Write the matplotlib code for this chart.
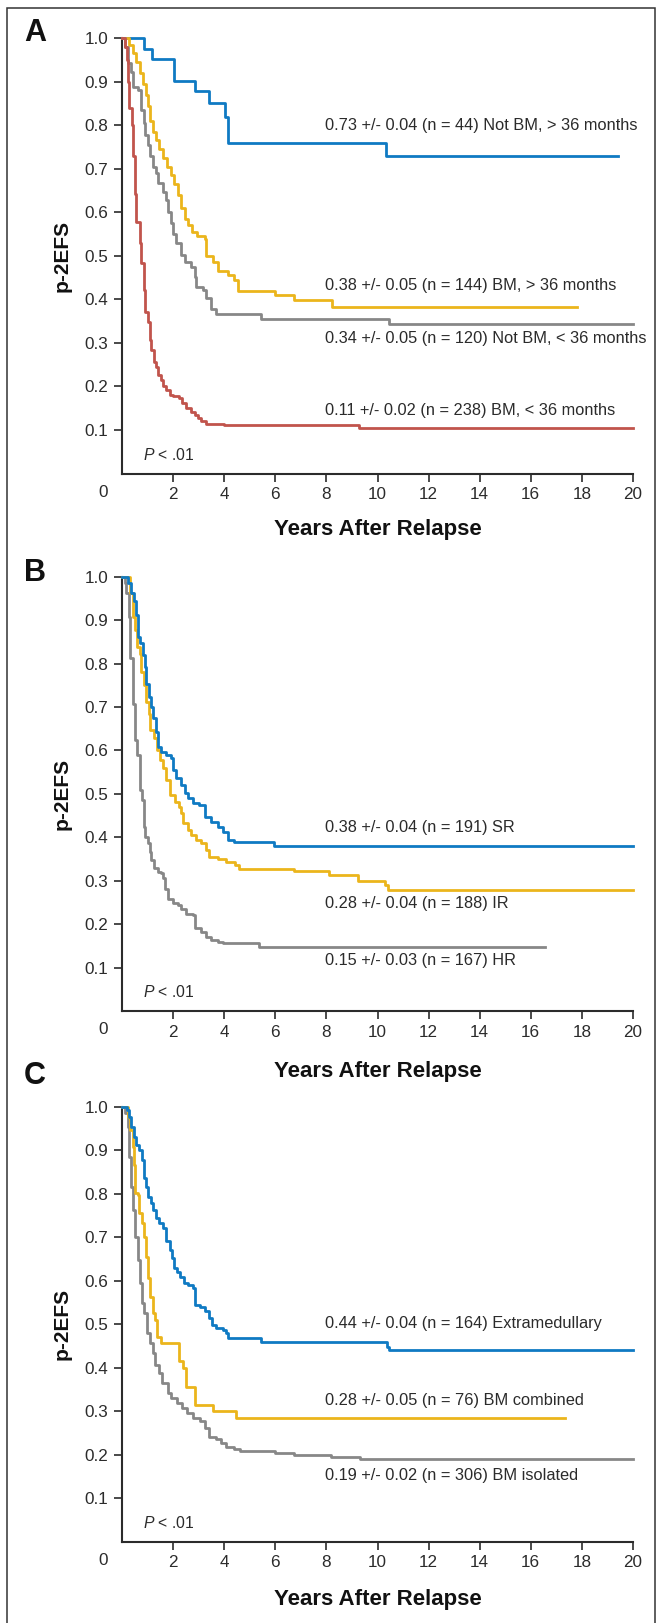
import matplotlib
matplotlib.use('Agg')
import matplotlib.pyplot as plt
from matplotlib import font_manager
from matplotlib.patches import Rectangle

installed = {f.name for f in font_manager.fontManager.ttflist}
base_font = 'Liberation Sans' if 'Liberation Sans' in installed else 'DejaVu Sans'
plt.rcParams['font.family'] = [base_font, 'DejaVu Sans']
# italic P in "P < .01" from the same family
plt.rcParams['mathtext.fontset'] = 'custom'
plt.rcParams['mathtext.it'] = base_font + ':italic'
plt.rcParams['mathtext.rm'] = base_font

BLUE = '#0f7ac3'
YELLOW = '#ebb51c'
GRAY = '#878787'
RED = '#c1544c'
INK = '#2b2b2b'

# ---- Panel A: relapse site x time to relapse ----
a_blue_t = [0.88, 1.19, 2.03, 2.86, 3.42, 4.05, 4.16, 10.34]
a_blue_s = [0.975, 0.951, 0.901, 0.878, 0.850, 0.818, 0.758, 0.728]
a_blue_end = 19.4

a_yellow_t = [0.27, 0.45, 0.55, 0.70, 0.82, 0.92, 1.00, 1.10, 1.20, 1.35, 1.45, 1.60, 1.75, 1.92,
              2.05, 2.20, 2.32, 2.45, 2.60, 2.75, 2.95, 3.25, 3.30, 3.55, 3.75, 4.15, 4.40, 4.55,
              6.00, 6.75, 8.20]
a_yellow_s = [0.985, 0.965, 0.945, 0.920, 0.895, 0.870, 0.845, 0.810, 0.785, 0.765, 0.745, 0.725,
              0.705, 0.685, 0.665, 0.640, 0.610, 0.585, 0.570, 0.555, 0.545, 0.538, 0.500, 0.485,
              0.465, 0.455, 0.445, 0.420, 0.410, 0.398, 0.383]
a_yellow_end = 17.8

a_gray_t = [0.10, 0.23, 0.36, 0.43, 0.63, 0.76, 0.85, 0.91, 1.02, 1.08, 1.21, 1.34, 1.41, 1.60,
            1.73, 1.80, 1.90, 1.99, 2.12, 2.32, 2.45, 2.71, 2.84, 2.90, 3.16, 3.29, 3.49, 3.68,
            5.44, 10.44]
a_gray_s = [0.980, 0.942, 0.923, 0.888, 0.880, 0.835, 0.804, 0.777, 0.754, 0.728, 0.705, 0.690,
            0.666, 0.647, 0.628, 0.601, 0.575, 0.551, 0.529, 0.502, 0.486, 0.475, 0.452, 0.429,
            0.421, 0.402, 0.379, 0.366, 0.355, 0.344]
a_gray_end = 20.0

a_red_t = [0.12, 0.20, 0.25, 0.28, 0.38, 0.43, 0.49, 0.56, 0.69, 0.76, 0.85, 0.91, 1.02, 1.08,
           1.15, 1.24, 1.34, 1.41, 1.54, 1.60, 1.73, 1.86, 1.99, 2.25, 2.36, 2.51, 2.71, 2.84,
           2.97, 3.10, 3.29, 4.01, 9.28]
a_red_s = [0.980, 0.950, 0.900, 0.840, 0.800, 0.728, 0.643, 0.578, 0.529, 0.483, 0.421, 0.372,
           0.349, 0.307, 0.284, 0.257, 0.245, 0.226, 0.215, 0.200, 0.192, 0.180, 0.177, 0.173,
           0.161, 0.150, 0.142, 0.134, 0.127, 0.121, 0.114, 0.111, 0.104]
a_red_end = 20.0

a_labels = ['0.73 +/- 0.04 (n = 44) Not BM, > 36 months',
            '0.38 +/- 0.05 (n = 144) BM, > 36 months',
            '0.34 +/- 0.05 (n = 120) Not BM, < 36 months',
            '0.11 +/- 0.02 (n = 238) BM, < 36 months']
a_label_y = [0.798, 0.431, 0.309, 0.144]

# ---- Panel B: risk group ----
b_blue_t = [0.23, 0.36, 0.47, 0.56, 0.63, 0.72, 0.82, 0.89, 0.95, 1.05, 1.15, 1.21, 1.32, 1.41,
            1.54, 1.71, 1.93, 1.99, 2.12, 2.32, 2.45, 2.58, 2.77, 3.03, 3.26, 3.49, 3.75, 3.95,
            4.14, 4.40, 5.96]
b_blue_s = [0.985, 0.962, 0.943, 0.912, 0.862, 0.847, 0.820, 0.793, 0.754, 0.724, 0.701, 0.674,
            0.643, 0.609, 0.597, 0.589, 0.582, 0.555, 0.536, 0.520, 0.501, 0.490, 0.478, 0.474,
            0.447, 0.436, 0.424, 0.413, 0.394, 0.390, 0.381]
b_blue_end = 20.0

b_yellow_t = [0.30, 0.43, 0.52, 0.59, 0.69, 0.76, 0.85, 0.92, 1.04, 1.08, 1.24, 1.37, 1.47, 1.60,
              1.73, 1.86, 2.06, 2.25, 2.32, 2.38, 2.58, 2.71, 2.90, 3.10, 3.29, 3.42, 3.75, 4.08,
              4.44, 4.57, 6.72, 8.12, 9.23, 10.31, 10.40]
b_yellow_s = [0.962, 0.908, 0.877, 0.839, 0.823, 0.781, 0.751, 0.712, 0.685, 0.647, 0.628, 0.601,
              0.578, 0.559, 0.532, 0.497, 0.482, 0.470, 0.455, 0.432, 0.417, 0.405, 0.394, 0.386,
              0.371, 0.355, 0.350, 0.344, 0.336, 0.326, 0.322, 0.313, 0.300, 0.290, 0.279]
b_yellow_end = 20.0

b_gray_t = [0.10, 0.17, 0.27, 0.33, 0.43, 0.49, 0.59, 0.69, 0.79, 0.85, 0.91, 1.02, 1.08, 1.15,
            1.24, 1.41, 1.54, 1.60, 1.67, 1.80, 1.99, 2.19, 2.32, 2.51, 2.77, 2.84, 3.10, 3.29,
            3.49, 3.75, 3.95, 5.38]
b_gray_s = [0.985, 0.962, 0.908, 0.812, 0.708, 0.624, 0.589, 0.509, 0.486, 0.424, 0.401, 0.386,
            0.367, 0.348, 0.329, 0.321, 0.317, 0.306, 0.282, 0.259, 0.249, 0.244, 0.234, 0.223,
            0.221, 0.190, 0.183, 0.171, 0.163, 0.160, 0.156, 0.147]
b_gray_end = 16.56

b_labels = ['0.38 +/- 0.04 (n = 191) SR',
            '0.28 +/- 0.04 (n = 188) IR',
            '0.15 +/- 0.03 (n = 167) HR']
b_label_y = [0.423, 0.248, 0.117]

# ---- Panel C: site of relapse ----
c_blue_t = [0.19, 0.28, 0.37, 0.47, 0.54, 0.67, 0.79, 0.88, 0.95, 1.02, 1.12, 1.23, 1.33, 1.44,
            1.62, 1.72, 1.86, 1.97, 2.03, 2.14, 2.28, 2.42, 2.60, 2.77, 2.84, 3.05, 3.25, 3.39,
            3.53, 3.67, 3.95, 4.09, 4.16, 5.44, 10.37, 10.45]
c_blue_s = [0.992, 0.977, 0.954, 0.931, 0.912, 0.900, 0.877, 0.835, 0.816, 0.793, 0.778, 0.762,
            0.743, 0.732, 0.720, 0.690, 0.670, 0.651, 0.628, 0.620, 0.609, 0.594, 0.590, 0.582,
            0.544, 0.540, 0.529, 0.513, 0.498, 0.490, 0.486, 0.479, 0.467, 0.458, 0.448, 0.440]
c_blue_end = 20.0

c_yellow_t = [0.23, 0.33, 0.42, 0.47, 0.51, 0.61, 0.65, 0.79, 0.88, 0.93, 1.00, 1.09, 1.21, 1.30,
              1.37, 1.51, 2.24, 2.38, 2.49, 2.87, 3.58, 4.47]
c_yellow_s = [0.977, 0.946, 0.908, 0.866, 0.801, 0.797, 0.755, 0.732, 0.701, 0.655, 0.605, 0.563,
              0.525, 0.509, 0.471, 0.456, 0.414, 0.398, 0.356, 0.314, 0.299, 0.283]
c_yellow_end = 17.34

c_gray_t = [0.12, 0.23, 0.28, 0.37, 0.44, 0.51, 0.61, 0.70, 0.79, 0.88, 0.98, 1.09, 1.21, 1.30,
            1.44, 1.58, 1.79, 1.93, 2.14, 2.35, 2.56, 2.79, 3.05, 3.25, 3.39, 3.67, 3.88, 4.09,
            4.37, 4.61, 6.00, 6.74, 8.18, 9.30]
c_gray_s = [0.985, 0.954, 0.885, 0.816, 0.762, 0.701, 0.647, 0.594, 0.548, 0.525, 0.479, 0.456,
            0.433, 0.406, 0.387, 0.364, 0.341, 0.329, 0.318, 0.306, 0.295, 0.283, 0.276, 0.260,
            0.241, 0.235, 0.226, 0.218, 0.212, 0.209, 0.203, 0.199, 0.195, 0.189]
c_gray_end = 20.0

c_labels = ['0.44 +/- 0.04 (n = 164) Extramedullary',
            '0.28 +/- 0.05 (n = 76) BM combined',
            '0.19 +/- 0.02 (n = 306) BM isolated']
c_label_y = [0.502, 0.324, 0.151]

x_ticks = [2, 4, 6, 8, 10, 12, 14, 16, 18, 20]
y_ticks = [0.1, 0.2, 0.3, 0.4, 0.5, 0.6, 0.7, 0.8, 0.9, 1.0]
label_x = 7.95


def km(ax, times, surv, end, color):
    xs = [0] + list(times) + [end]
    ys = [1.0] + list(surv) + [surv[-1]]
    ax.step(xs, ys, where='post', color=color, lw=2.0, clip_on=False, zorder=3)


def style(ax):
    ax.set_xlim(0, 20)
    ax.set_ylim(0, 1.0)
    for s in ['top', 'right']:
        ax.spines[s].set_visible(False)
    for s in ['left', 'bottom']:
        ax.spines[s].set_color(INK)
        ax.spines[s].set_linewidth(1.5)
    ax.set_xticks(x_ticks)
    ax.set_xticklabels([str(v) for v in x_ticks])
    ax.set_yticks(y_ticks)
    ax.set_yticklabels(['%.1f' % v for v in y_ticks])
    ax.tick_params(axis='both', colors=INK, labelcolor=INK, labelsize=12.3,
                   length=5.5, width=1.2, pad=4.5)
    ax.text(-0.75, -0.043, '0', transform=ax.get_xaxis_transform(), ha='center', va='center',
            fontsize=12.3, color=INK)
    ax.set_ylabel('p-2EFS', fontweight='bold', fontsize=15, color='#111111', labelpad=9)
    ax.text(0.83, 0.043, r'$\mathit{P}$ < .01', fontsize=11.3, color=INK, va='center')


fig = plt.figure(figsize=(6.58, 16.23), dpi=100)
H = 1623.0
W = 658.0
left = 122 / W
width = (633 - 122) / W

axA = fig.add_axes([left, (H - 473.6) / H, width, 435.6 / H])
axB = fig.add_axes([left, (H - 1011) / H, width, 434.3 / H])
axC = fig.add_axes([left, (H - 1541.5) / H, width, 434.8 / H])

km(axA, a_blue_t, a_blue_s, a_blue_end, BLUE)
km(axA, a_yellow_t, a_yellow_s, a_yellow_end, YELLOW)
km(axA, a_gray_t, a_gray_s, a_gray_end, GRAY)
km(axA, a_red_t, a_red_s, a_red_end, RED)

km(axB, b_gray_t, b_gray_s, b_gray_end, GRAY)
km(axB, b_yellow_t, b_yellow_s, b_yellow_end, YELLOW)
km(axB, b_blue_t, b_blue_s, b_blue_end, BLUE)

km(axC, c_gray_t, c_gray_s, c_gray_end, GRAY)
km(axC, c_yellow_t, c_yellow_s, c_yellow_end, YELLOW)
km(axC, c_blue_t, c_blue_s, c_blue_end, BLUE)

for ax, labels, ys in [(axA, a_labels, a_label_y), (axB, b_labels, b_label_y), (axC, c_labels, c_label_y)]:
    style(ax)
    for txt, y in zip(labels, ys):
        ax.text(label_x, y, txt, fontsize=11.8, color=INK, va='center', ha='left', clip_on=False)

# x axis titles and panel letters, placed in pixel rows
for y_px in [530, 1071, 1600]:
    fig.text((122 + 633) / 2 / W, 1 - y_px / H, 'Years After Relapse',
             fontweight='bold', fontsize=16, color='#111111', ha='center', va='center')
for letter, y_px in [('A', 33), ('B', 573), ('C', 1076)]:
    fig.text(35 / W, 1 - y_px / H, letter, fontsize=22, fontweight='bold', color='#111111',
             ha='center', va='center')

# outer frame
fig.patches.append(Rectangle((7 / W, -0.01), (655 - 7) / W, 1 - 8 / H + 0.01, transform=fig.transFigure,
                             fill=False, edgecolor='#333333', lw=1.1))

fig.savefig('out.png', dpi=100)
